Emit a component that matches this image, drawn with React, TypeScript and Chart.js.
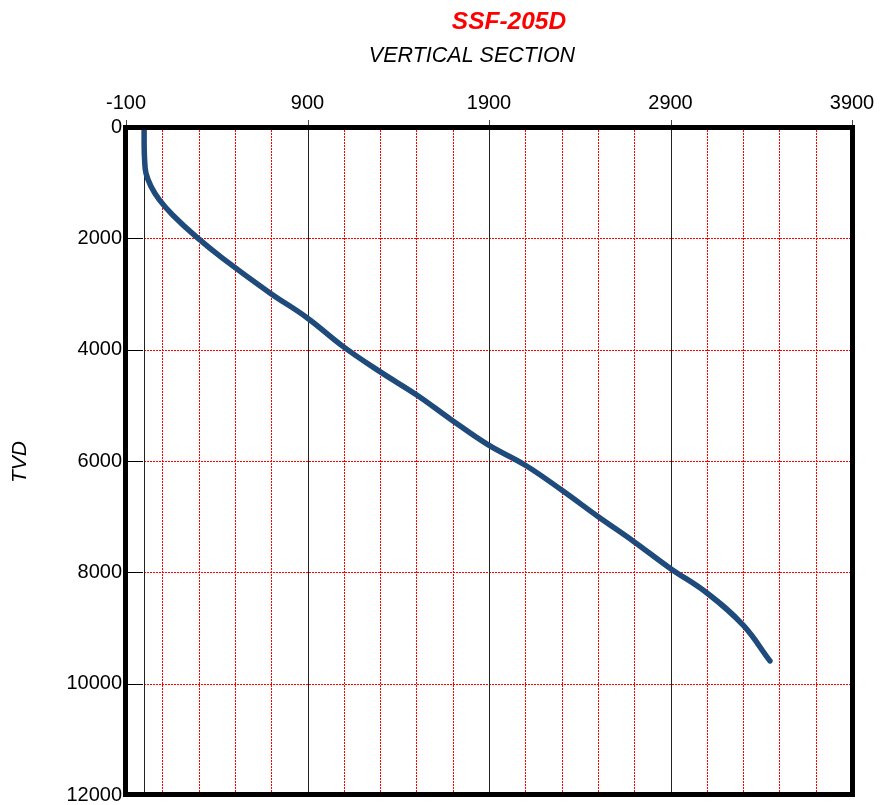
import React, { useEffect, useRef } from "react";
import { Chart, registerables } from "chart.js";

Chart.register(...registerables);

// Data
const vsValues = [0, 0, 2, 10, 38, 84, 157, 286, 433, 693, 897, 1097, 1299, 1502, 1694, 1896, 2098, 2300, 2502, 2699, 2897, 3101, 3299, 3448];
const tvdValues = [0, 300, 550, 830, 1070, 1310, 1580, 1970, 2360, 2980, 3425, 3945, 4395, 4814, 5263, 5712, 6072, 6521, 7001, 7449, 7925, 8371, 8946, 9592];

const xMajorTicks = [-100, 900, 1900, 2900, 3900];
const xMinorGrid = [100, 300, 500, 700, 1100, 1300, 1500, 1700, 2100, 2300, 2500, 2700, 3100, 3300, 3500, 3700];
const xZeroLine = [0];
const yTicks = [0, 2000, 4000, 6000, 8000, 10000, 12000];

const titleText = "SSF-205D";
const subtitleText = "VERTICAL SECTION";
const yAxisLabel = "TVD";

const FONT = "'Liberation Sans', Arial, sans-serif";

const gridPlugin = {
  id: "customGrid",
  beforeDatasetsDraw(chart: any) {
    const { ctx, chartArea: a, scales } = chart;
    const xs = scales.x;
    const ys = scales.y;
    ctx.save();
    ctx.strokeStyle = "#ff0000";
    ctx.lineWidth = 1;
    ctx.setLineDash([2, 1]);
    for (const v of xMinorGrid) {
      const px = Math.round(xs.getPixelForValue(v)) + 0.5;
      ctx.beginPath();
      ctx.moveTo(px, a.top);
      ctx.lineTo(px, a.bottom);
      ctx.stroke();
    }
    for (const v of yTicks) {
      if (v === 0 || v === 12000) continue;
      const py = Math.round(ys.getPixelForValue(v)) + 0.5;
      ctx.beginPath();
      ctx.moveTo(a.left, py);
      ctx.lineTo(a.right, py);
      ctx.stroke();
    }
    ctx.setLineDash([]);
    ctx.strokeStyle = "#222";
    for (const v of [...xMajorTicks, ...xZeroLine]) {
      const px = Math.round(xs.getPixelForValue(v)) + 0.5;
      ctx.beginPath();
      ctx.moveTo(px, a.top);
      ctx.lineTo(px, a.bottom);
      ctx.stroke();
    }
    ctx.strokeStyle = "#000";
    for (const v of yTicks) {
      const py = Math.round(ys.getPixelForValue(v)) + 0.5;
      ctx.beginPath();
      ctx.moveTo(a.left, py);
      ctx.lineTo(a.left + 17, py);
      ctx.stroke();
    }
    ctx.strokeStyle = "#444";
    for (const v of xMajorTicks) {
      const px = Math.round(xs.getPixelForValue(v)) + 0.5;
      ctx.beginPath();
      ctx.moveTo(px, a.top - 7);
      ctx.lineTo(px, a.top);
      ctx.stroke();
    }
    ctx.restore();
  },
  afterDatasetsDraw(chart: any) {
    const { ctx, chartArea: a } = chart;
    ctx.save();
    ctx.strokeStyle = "#000";
    ctx.lineWidth = 5;
    ctx.strokeRect(a.left - 0.5, a.top + 0.5, a.right - a.left + 1, a.bottom - a.top - 1);
    ctx.restore();
  },
  afterDraw(chart: any) {
    const { ctx } = chart;
    ctx.save();
    ctx.textAlign = "center";
    ctx.textBaseline = "middle";
    ctx.fillStyle = "#ff0000";
    ctx.font = `italic bold 24.5px ${FONT}`;
    ctx.fillText(titleText, 509, 22);
    ctx.fillStyle = "#000";
    ctx.font = `italic 21.5px ${FONT}`;
    ctx.fillText(subtitleText, 472, 56);
    ctx.translate(20, 462);
    ctx.rotate(-Math.PI / 2);
    ctx.font = `italic 21px ${FONT}`;
    ctx.fillText(yAxisLabel, 0, 0);
    ctx.restore();
  },
};

export default function App() {
  const ref = useRef<HTMLCanvasElement | null>(null);
  useEffect(() => {
    if (!ref.current) return;
    const data = vsValues.map((x, i) => ({ x, y: tvdValues[i] }));
    const chart = new Chart(ref.current, {
      type: "scatter",
      data: {
        datasets: [
          {
            data,
            showLine: true,
            borderColor: "#1f4a7c",
            borderWidth: 5.5,
            pointRadius: 0,
            tension: 0.4,
            borderCapStyle: "round",
            borderJoinStyle: "round",
          } as any,
        ],
      },
      options: {
        responsive: false,
        animation: false,
        layout: { padding: { left: 0, top: 0, right: 28, bottom: 10 } },
        plugins: { legend: { display: false }, tooltip: { enabled: false } },
        scales: {
          x: {
            type: "linear",
            position: "top",
            min: -100,
            max: 3900,
            ticks: {
              stepSize: 1000,
              color: "#000",
              font: { family: FONT, size: 20 },
              padding: 12,
              maxRotation: 0,
              autoSkip: false,
              callback: (v: any) => String(v),
            },
            grid: { display: false, drawTicks: false },
            border: { display: false },
            afterFit: (s: any) => {
              s.height = 127;
              s.paddingLeft = 0;
              s.paddingRight = 0;
            },
          },
          y: {
            type: "linear",
            reverse: true,
            min: 0,
            max: 12000,
            ticks: {
              stepSize: 2000,
              color: "#000",
              font: { family: FONT, size: 20 },
              padding: 4,
              autoSkip: false,
              callback: (v: any) => String(v),
            },
            grid: { display: false, drawTicks: false },
            border: { display: false },
            afterFit: (s: any) => {
              s.width = 126;
              s.paddingTop = 0;
              s.paddingBottom = 0;
            },
          },
        },
      } as any,
      plugins: [gridPlugin],
    });
    return () => chart.destroy();
  }, []);
  return (
    <div style={{ position: "fixed", left: 0, top: 0, width: 880, height: 805, background: "#fff" }}>
      <canvas ref={ref} width={880} height={805} />
    </div>
  );
}
